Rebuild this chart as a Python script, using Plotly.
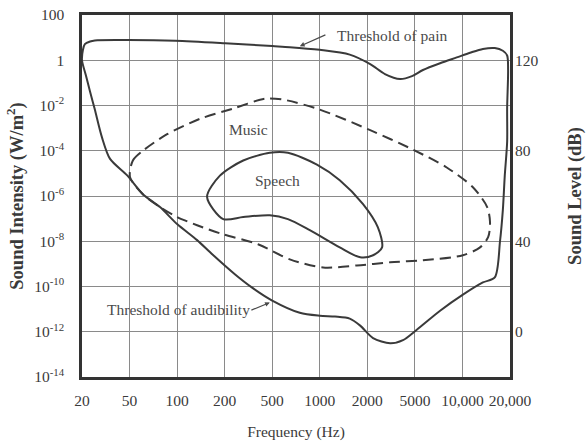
import plotly.graph_objects as go

# ---- axis ticks ----
freq_labels = ["20", "50", "100", "200", "500", "1000", "2000", "5000", "10,000", "20,000"]
freq_pos = list(range(len(freq_labels)))          # evenly spaced tick positions
intensity_exp = [2, 0, -2, -4, -6, -8, -10, -12, -14]
intensity_text = ["100", "1"] + [f"10<sup>{e}</sup>" for e in intensity_exp[2:]]
db_exp = [0, -4, -8, -12]
db_text = ["120", "80", "40", "0"]

# ---- curves (x: position on frequency scale, y: log10 intensity) ----
thresh_x = [0.0, 0.02, 0.06, 0.17, 0.27, 0.97, 1.96, 3.01, 4.0, 4.37, 5.0, 5.63, 6.06, 6.37,
            6.69, 6.94, 7.17, 7.53, 7.88, 8.16, 8.43, 8.68, 8.85, 8.94, 8.96, 8.94, 8.94,
            8.89, 8.85, 8.79, 8.68, 8.43, 8.01, 7.53, 7.04, 6.75, 6.48, 6.12, 5.85, 5.63,
            5.32, 5.0, 4.58, 4.0, 3.57, 3.22, 2.75, 2.42, 2.0, 1.64, 1.28, 0.95, 0.59,
            0.42, 0.27, 0.17, 0.08, 0.0]
thresh_y = [0.0, 0.46, 0.71, 0.83, 0.875, 0.89, 0.86, 0.75, 0.625, 0.58, 0.46, 0.25, -0.17,
            -0.61, -0.83, -0.70, -0.43, -0.13, 0.125, 0.33, 0.5, 0.54, 0.42, 0.21, -0.43,
            -2.1, -3.6, -5.1, -6.6, -8.0, -9.6, -9.82, -10.36, -11.07, -11.91, -12.37,
            -12.51, -12.28, -11.73, -11.42, -11.33, -11.29, -11.16, -10.62, -10.04, -9.47,
            -8.6, -7.95, -7.24, -6.49, -5.92, -5.09, -4.36, -3.41, -2.18, -1.39, -0.65, 0.0]

music_x = [1.01, 1.07, 1.28, 1.79, 2.48, 3.17, 3.85, 4.23, 5.0, 6.06, 6.96, 7.67, 8.22, 8.52,
           8.58, 8.54, 8.37, 8.01, 7.17, 6.48, 5.78, 5.07, 4.37, 3.70, 2.96, 2.42, 2.0,
           1.64, 1.28, 1.01]
music_y = [-5.17, -4.43, -4.0, -3.27, -2.59, -2.14, -1.70, -1.74, -2.18, -3.09, -3.95, -4.74,
           -5.61, -6.49, -7.16, -7.82, -8.27, -8.62, -8.84, -8.93, -9.07, -9.16, -8.8,
           -8.13, -7.69, -7.29, -6.93, -6.49, -5.92, -5.17]

speech_x = [2.63, 2.90, 3.39, 3.95, 4.33, 4.94, 5.42, 5.91, 6.22, 6.31, 6.12, 5.85, 5.42,
            4.79, 4.33, 3.95, 3.39, 2.97, 2.63]
speech_y = [-6.04, -5.10, -4.43, -4.09, -4.09, -4.61, -5.30, -6.36, -7.38, -8.27, -8.62,
            -8.71, -8.27, -7.51, -7.02, -6.85, -6.93, -7.02, -6.04]

line_col = "#3a3a3a"
grid_col = "#8a8a8a"
text_col = "#3a3a3a"
serif = "Liberation Serif"

fig = go.Figure()
fig.add_trace(go.Scatter(x=thresh_x, y=[10 ** v for v in thresh_y], mode="lines",
                         line=dict(color=line_col, width=2, shape="spline", smoothing=0.8),
                         showlegend=False, hoverinfo="skip"))
fig.add_trace(go.Scatter(x=music_x, y=[10 ** v for v in music_y], mode="lines",
                         line=dict(color=line_col, width=2, dash="11px,6px", shape="spline",
                                   smoothing=0.8),
                         showlegend=False, hoverinfo="skip"))
fig.add_trace(go.Scatter(x=speech_x, y=[10 ** v for v in speech_y], mode="lines",
                         line=dict(color=line_col, width=2, shape="spline", smoothing=0.8),
                         showlegend=False, hoverinfo="skip"))
# secondary (dB) axis carrier
fig.add_trace(go.Scatter(x=[None], y=[None], yaxis="y2", showlegend=False, hoverinfo="skip"))

ann_font = dict(family=serif, size=15.5, color="#4a4a4a")
fig.add_annotation(x=5.32, y=1.08, text="Threshold of pain", showarrow=False,
                   xanchor="left", yanchor="middle", font=ann_font)
fig.add_annotation(x=4.58, y=0.62, ax=5.15, ay=1.15, axref="x", ayref="y", text="",
                   showarrow=True, arrowhead=2, arrowsize=0.8, arrowwidth=1.2,
                   arrowcolor="#4a4a4a")
fig.add_annotation(x=3.51, y=-3.05, text="Music", showarrow=False, font=ann_font)
fig.add_annotation(x=4.12, y=-5.30, text="Speech", showarrow=False, font=ann_font)
fig.add_annotation(x=0.48, y=-11.02, text="Threshold of audibility", showarrow=False,
                   xanchor="left", yanchor="middle", font=ann_font)
fig.add_annotation(x=3.95, y=-10.71, ax=3.53, ay=-11.07, axref="x", ayref="y", text="",
                   showarrow=True, arrowhead=2, arrowsize=0.8, arrowwidth=1.2,
                   arrowcolor="#4a4a4a")

tick_font = dict(family=serif, size=15.5, color=text_col)
fig.update_layout(
    width=586, height=441,
    margin=dict(l=82, r=76, t=15, b=64),
    paper_bgcolor="white", plot_bgcolor="white",
    xaxis=dict(range=[0, 9], tickvals=freq_pos, ticktext=freq_labels, showgrid=True,
               gridcolor=grid_col, gridwidth=1.4, zeroline=False, showline=True,
               linecolor="#333", linewidth=2.5, mirror=True, ticks="", automargin=False,
               ticklabelstandoff=8, tickfont=tick_font,
               title=dict(text="Frequency (Hz)", font=dict(family=serif, size=15.5, color=text_col),
                          standoff=20)),
    yaxis=dict(type="log", range=[-14, 2], tickvals=[10 ** e for e in intensity_exp],
               ticktext=intensity_text, showgrid=True, gridcolor=grid_col, gridwidth=1.4,
               zeroline=False, showline=True, linecolor="#333", linewidth=2.5, mirror=True,
               ticks="", ticklabelstandoff=12, tickfont=tick_font, automargin=False,
               title=dict(text="<b>Sound Intensity (W/m<sup>2</sup>)</b>",
                          font=dict(family=serif, size=18.5, color=text_col), standoff=6)),
    yaxis2=dict(type="log", range=[-14, 2], overlaying="y", side="right",
                tickvals=[10 ** e for e in db_exp], ticktext=db_text, showgrid=False,
                zeroline=False, showline=False, ticks="", ticklabelstandoff=4,
                tickfont=tick_font, automargin=False,
                title=dict(text="<b>Sound Level (dB)</b>",
                           font=dict(family=serif, size=18.5, color=text_col), standoff=32)),
)

fig.write_html("out.html")
